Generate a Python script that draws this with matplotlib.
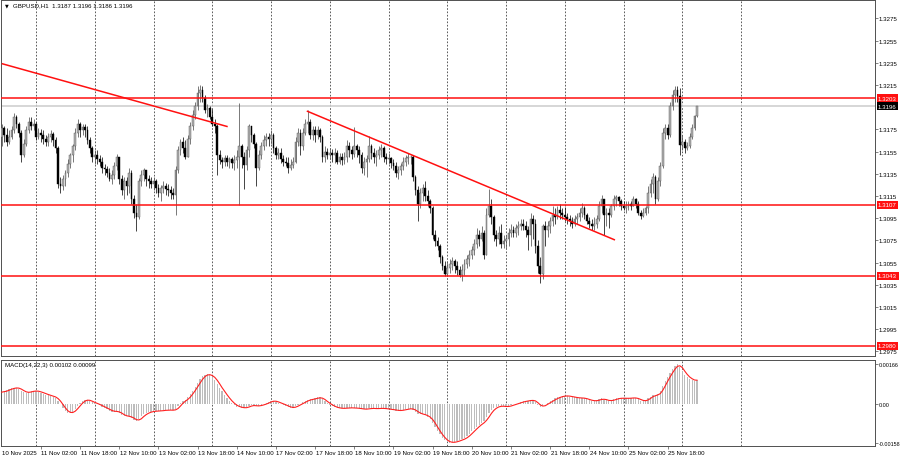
import numpy as np
import pandas as pd
import matplotlib
matplotlib.use('Agg')
import matplotlib.pyplot as plt
import matplotlib.transforms as mtransforms

plt.rcParams['font.family'] = ['Liberation Sans', 'DejaVu Sans']

# GBPUSD H1, 10 Nov 2025 10:00 .. 26 Nov 2025 06:00.
# prices are in pips above 1.3000 (176 -> 1.3176)
first_open = 168
close = [
    176, 170, 164, 168, 174, 186, 180, 172, 152, 162, 174, 182, 178, 180,
    # 11 Nov
    168, 172, 170, 166, 164, 168, 171, 165, 158, 126, 124, 130, 136, 144, 152, 160, 172, 180, 174, 177, 174, 165, 158, 150,
    # 12 Nov
    152, 148, 146, 140, 139, 136, 130, 134, 142, 150, 130, 120, 128, 124, 136, 112, 100, 96, 128, 134, 138, 130, 128, 126,
    # 13 Nov
    128, 122, 118, 122, 124, 121, 120, 118, 116, 138, 156, 164, 158, 150, 166, 178, 188, 196, 208, 210, 203, 192, 194, 186,
    # 14 Nov
    180, 178, 152, 147, 146, 149, 146, 148, 145, 147, 150, 160, 150, 143, 156, 178, 170, 162, 140, 152, 160, 165, 168, 166,
    # 17 Nov
    170, 158, 152, 154, 148, 146, 145, 140, 143, 146, 164, 172, 160, 172, 180, 182, 170, 174, 170, 174, 168, 150, 155, 152,
    # 18 Nov
    154, 152, 154, 146, 150, 147, 150, 160, 156, 153, 160, 156, 152, 140, 146, 148, 160, 154, 150, 152, 156, 158, 150, 148,
    # 19 Nov
    149, 145, 142, 136, 138, 142, 146, 149, 150, 150, 132, 120, 108, 118, 122, 115, 110, 104, 80, 74, 70, 60, 52, 45,
    # 20 Nov
    50, 54, 56, 52, 48, 44, 48, 54, 58, 62, 66, 72, 80, 76, 82, 62, 98, 106, 96, 80, 76, 82, 72, 74,
    # 21 Nov
    76, 82, 84, 82, 86, 88, 90, 88, 84, 80, 94, 90, 70, 52, 45, 88, 84, 88, 92, 98, 96, 102, 100, 98,
    # 24 Nov
    96, 94, 92, 90, 94, 96, 100, 104, 98, 92, 90, 88, 90, 94, 106, 112, 98, 100, 98, 106, 112, 114, 110, 106,
    # 25 Nov
    104, 106, 108, 106, 112, 108, 100, 97, 100, 104, 118, 126, 132, 112, 128, 142, 172, 176, 170, 196, 206, 210, 205, 161,
    # 26 Nov
    164, 158, 160, 168, 176, 187, 196,
]
high = [
    180, 178, 176, 174, 178, 190, 188, 182, 174, 166, 178, 186, 186, 184,
    182, 176, 175, 174, 170, 172, 174, 173, 168, 160, 132, 134, 138, 148, 154, 162, 176, 184, 182, 180, 180, 178, 168, 160,
    156, 156, 152, 150, 144, 142, 140, 138, 146, 153, 150, 134, 132, 132, 140, 138, 116, 108, 131, 138, 140, 138, 134, 132,
    132, 130, 126, 125, 128, 127, 126, 124, 122, 142, 160, 166, 168, 165, 170, 182, 192, 200, 214, 215, 214, 206, 198, 196,
    193, 184, 180, 156, 150, 152, 152, 150, 150, 152, 156, 199, 162, 155, 160, 180, 178, 172, 164, 156, 164, 170, 172, 172,
    174, 172, 160, 158, 158, 152, 150, 150, 148, 150, 168, 176, 175, 176, 184, 192, 184, 178, 178, 178, 176, 170, 160, 158,
    158, 157, 158, 156, 154, 154, 155, 165, 164, 160, 177, 162, 160, 155, 150, 152, 169, 162, 158, 156, 160, 162, 160, 154,
    154, 150, 148, 146, 142, 145, 150, 152, 154, 152, 152, 134, 124, 122, 126, 128, 120, 112, 106, 84, 78, 72, 62, 56,
    56, 58, 60, 58, 56, 52, 54, 58, 62, 66, 70, 76, 86, 84, 88, 84, 104, 121, 112, 98, 84, 88, 90, 80,
    80, 86, 90, 88, 90, 92, 94, 94, 92, 88, 100, 98, 94, 75, 60, 90, 92, 92, 96, 106, 104, 106, 108, 104,
    105, 100, 98, 96, 98, 100, 104, 109, 106, 100, 96, 94, 96, 98, 110, 116, 112, 104, 104, 108, 116, 116, 115, 112,
    110, 110, 110, 110, 115, 113, 110, 102, 104, 106, 124, 130, 136, 134, 132, 146, 176, 180, 180, 200, 210, 214, 214, 212,
    170, 166, 164, 172, 180, 188, 196,
]
low = [
    160, 164, 160, 162, 166, 172, 176, 168, 146, 150, 160, 172, 174, 174,
    165, 166, 164, 162, 160, 160, 164, 160, 154, 122, 118, 120, 124, 132, 140, 146, 156, 168, 168, 170, 168, 162, 154, 146,
    144, 144, 142, 136, 134, 132, 128, 126, 130, 138, 126, 116, 112, 116, 118, 108, 95, 83, 94, 124, 128, 124, 122, 122,
    120, 118, 114, 110, 118, 116, 115, 112, 112, 98, 136, 152, 154, 148, 150, 162, 174, 184, 192, 200, 200, 190, 186, 184,
    178, 172, 134, 144, 140, 142, 142, 140, 140, 138, 140, 107, 140, 121, 138, 150, 164, 158, 124, 138, 148, 156, 160, 160,
    162, 154, 148, 148, 145, 142, 142, 136, 138, 140, 145, 160, 152, 156, 170, 172, 166, 165, 164, 166, 164, 146, 146, 148,
    148, 146, 145, 144, 144, 143, 144, 146, 150, 148, 150, 150, 145, 136, 134, 132, 146, 148, 145, 142, 148, 150, 146, 144,
    144, 140, 138, 132, 130, 134, 138, 142, 144, 144, 128, 116, 92, 104, 110, 110, 106, 100, 76, 70, 66, 55, 48, 43,
    43, 46, 48, 46, 44, 42, 38, 44, 50, 52, 58, 62, 68, 70, 74, 58, 62, 96, 90, 74, 70, 72, 68, 68,
    68, 70, 78, 78, 78, 80, 84, 84, 78, 66, 70, 76, 64, 46, 37, 40, 70, 78, 82, 88, 90, 94, 94, 94,
    92, 90, 88, 86, 88, 90, 92, 96, 94, 90, 86, 84, 84, 86, 92, 100, 80, 88, 86, 96, 102, 106, 106, 102,
    102, 100, 102, 102, 106, 104, 98, 94, 96, 98, 100, 114, 118, 108, 110, 124, 140, 166, 166, 168, 192, 200, 200, 152,
    156, 154, 156, 158, 166, 174, 186,
]
# MACD(14,22,3) main line, units of 1e-5
macd_main = [
    50, 54, 58, 62, 66, 68, 68, 64, 56, 50, 48, 50, 54, 56,
    54, 52, 48, 44, 40, 37, 34, 31, 26, 14, 0, -16, -28, -36, -36, -30, -20, -6, 6, 14, 19, 18, 12, 8,
    4, 0, -5, -10, -15, -20, -26, -30, -30, -28, -36, -44, -48, -50, -50, -56, -64, -70, -60, -50, -42, -36, -32, -30,
    -28, -28, -28, -26, -25, -24, -24, -24, -25, -20, -8, 6, 14, 18, 28, 42, 56, 70, 88, 104, 116, 122, 124, 120,
    112, 102, 84, 68, 54, 40, 26, 14, 4, -4, -10, -12, -14, -16, -12, -6, -4, -6, -8, -6, -2, 0, 4, 10,
    14, 14, 10, 6, 2, -2, -6, -12, -14, -14, -8, -2, 2, 8, 14, 18, 20, 22, 24, 28, 28, 20, 12, 4,
    -2, -8, -12, -16, -16, -17, -17, -14, -14, -16, -15, -16, -18, -20, -20, -20, -16, -17, -18, -18, -17, -16, -18, -19,
    -20, -21, -23, -26, -26, -25, -23, -20, -18, -18, -22, -30, -38, -40, -42, -46, -52, -60, -76, -94, -110, -124, -138, -148,
    -155, -158, -157, -155, -152, -148, -144, -140, -132, -122, -112, -102, -92, -84, -76, -70, -54, -36, -24, -16, -10, -7, -8, -9,
    -10, -8, -4, 0, 2, 6, 9, 12, 14, 14, 18, 16, 8, -4, -12, -6, 0, 6, 12, 18, 24, 28, 32, 34,
    35, 34, 32, 30, 28, 26, 26, 26, 24, 20, 17, 14, 14, 16, 20, 24, 18, 16, 14, 16, 20, 24, 25, 25,
    25, 24, 25, 26, 27, 25, 20, 15, 13, 16, 24, 32, 38, 36, 42, 54, 76, 96, 112, 130, 146, 158, 166, 152,
    136, 122, 112, 104, 100, 96, 102,
]

levels = [1.3203, 1.3107, 1.3043, 1.2980]
last_price = 1.3196
header = 'GBPUSD,H1  1.3187 1.3196 1.3186 1.3196'
macd_title = 'MACD(14,22,3) 0.00102 0.00099'

# trend lines: (bar index, price) end points
trend_lines = [
    [(0.0, 1.32342), (92.3, 1.31774)],
    [(124.6, 1.31915), (250.5, 1.30753)],
]

date_labels = ['10 Nov 2025', '11 Nov 02:00', '11 Nov 18:00', '12 Nov 10:00',
               '13 Nov 02:00', '13 Nov 18:00', '14 Nov 10:00', '17 Nov 02:00',
               '17 Nov 18:00', '18 Nov 10:00', '19 Nov 02:00', '19 Nov 18:00',
               '20 Nov 10:00', '21 Nov 02:00', '21 Nov 18:00', '24 Nov 10:00',
               '25 Nov 02:00', '25 Nov 18:00']
label_bars = [16 * k for k in range(len(date_labels))]
day_bars = [14 + 24 * k for k in range(13)]   # 00:00 of each day

# ---------------------------------------------------------------
close = 1.3 + np.array(close) / 1e4
high = 1.3 + np.array(high) / 1e4
low = 1.3 + np.array(low) / 1e4
opn = np.concatenate([[1.3 + first_open / 1e4], close[:-1]])
idx = np.arange(len(close))
macd = np.array(macd_main) * 1e-5
signal = pd.Series(macd).rolling(3, min_periods=1).mean().values

W, H = 900, 460


def box(x0, y0, x1, y1):
    return [x0 / W, 1 - y1 / H, (x1 - x0) / W, (y1 - y0) / H]


fig = plt.figure(figsize=(W / 100, H / 100), dpi=100)
fig.patch.set_facecolor('white')
ax = fig.add_axes(box(1, 1, 875, 357))
axm = fig.add_axes(box(1, 361, 875, 447))

x_lim = (-0.3, 356.7)
fs = 4.4
spine_c = '#505050'

for a in (ax, axm):
    a.set_xlim(*x_lim)
    for s in a.spines.values():
        s.set_color(spine_c)
        s.set_linewidth(0.7)
    for g in day_bars:
        a.axvline(g, color='#404040', lw=0.6, ls=(0, (2, 2)), zorder=0)
    a.yaxis.tick_right()
    a.tick_params(axis='y', labelsize=fs, length=1.8, width=0.5, pad=1.0,
                  color=spine_c, labelcolor='black')

# ---- main price panel ----
ax.set_ylim(1.29708, 1.32915)
ticks = [1.2975 + 0.002 * k for k in range(16)]
ticks = [t for t in ticks if abs(t - 1.3195) > 1e-6]
ax.set_yticks(ticks)
ax.set_yticklabels([f'{t:.4f}' for t in ticks])
ax.set_xticks([])

# current price line
ax.axhline(last_price, color='#cfcfcf', lw=1.2, zorder=1)

# candles: bull = grey, bear = black
up = close >= opn
wick_lo = np.minimum(low, np.minimum(opn, close))
wick_hi = np.maximum(high, np.maximum(opn, close))
ax.vlines(idx[up], wick_lo[up], wick_hi[up], color='#555555', lw=0.55, zorder=3)
ax.vlines(idx[~up], wick_lo[~up], wick_hi[~up], color='#111111', lw=0.55, zorder=3)
body_lo = np.minimum(opn, close)
body_h = np.maximum(np.abs(close - opn), 0.00003)
ax.bar(idx[up], body_h[up], bottom=body_lo[up], width=0.72,
       color='#b0b0b0', edgecolor='#555555', linewidth=0.3, zorder=4)
ax.bar(idx[~up], body_h[~up], bottom=body_lo[~up], width=0.72,
       color='black', edgecolor='black', linewidth=0.3, zorder=4)

# support / resistance levels
for lv in levels:
    ax.axhline(lv, color='#ff1010', lw=1.1, zorder=5)

for (x0, y0), (x1, y1) in trend_lines:
    ax.plot([x0, x1], [y0, y1], color='#ff1010', lw=1.1, zorder=6,
            solid_capstyle='butt')

lbl_tr = mtransforms.blended_transform_factory(ax.transAxes, ax.transData)
for lv in levels:
    ax.text(1.0035, lv, f'{lv:.4f}', transform=lbl_tr, fontsize=fs,
            color='white', va='center', ha='left', zorder=10,
            bbox=dict(boxstyle='square,pad=0.25', fc='#ff1010', ec='none'),
            clip_on=False)
ax.text(1.0035, last_price, f'{last_price:.4f}', transform=lbl_tr, fontsize=fs,
        color='white', va='center', ha='left', zorder=10,
        bbox=dict(boxstyle='square,pad=0.25', fc='black', ec='none'),
        clip_on=False)

ax.text(4 / 874, 1 - 5 / 356, '\u25bc', transform=ax.transAxes, fontsize=3.5,
        va='center', ha='left', family=['DejaVu Sans'])
ax.text(12 / 874, 1 - 5 / 356, header, transform=ax.transAxes, fontsize=fs,
        va='center', ha='left')

# ---- MACD panel ----
axm.set_ylim(-0.00172, 0.001826)
axm.bar(idx, macd, width=0.5, color='#bdbdbd', zorder=2)
axm.plot(idx, signal, color='#ff2020', lw=0.8, zorder=3)
axm.set_yticks([0.00166, 0.0, -0.00158])
axm.set_yticklabels(['0.00166', '0.00', '-0.00158'], fontsize=3.9)
axm.text(4 / 874, 1 - 5 / 86, macd_title, transform=axm.transAxes,
         fontsize=fs, va='center', ha='left')

axm.set_xticks(label_bars[1:])
axm.set_xticklabels([])
axm.tick_params(axis='x', length=2, width=0.5, color=spine_c)
date_tr = mtransforms.blended_transform_factory(axm.transData, axm.transAxes)
for b, lab in zip(label_bars, date_labels):
    axm.text(b + 0.2, -0.07, lab, transform=date_tr, fontsize=fs,
             va='center', ha='left', clip_on=False)

fig.savefig('out.png', dpi=100)
